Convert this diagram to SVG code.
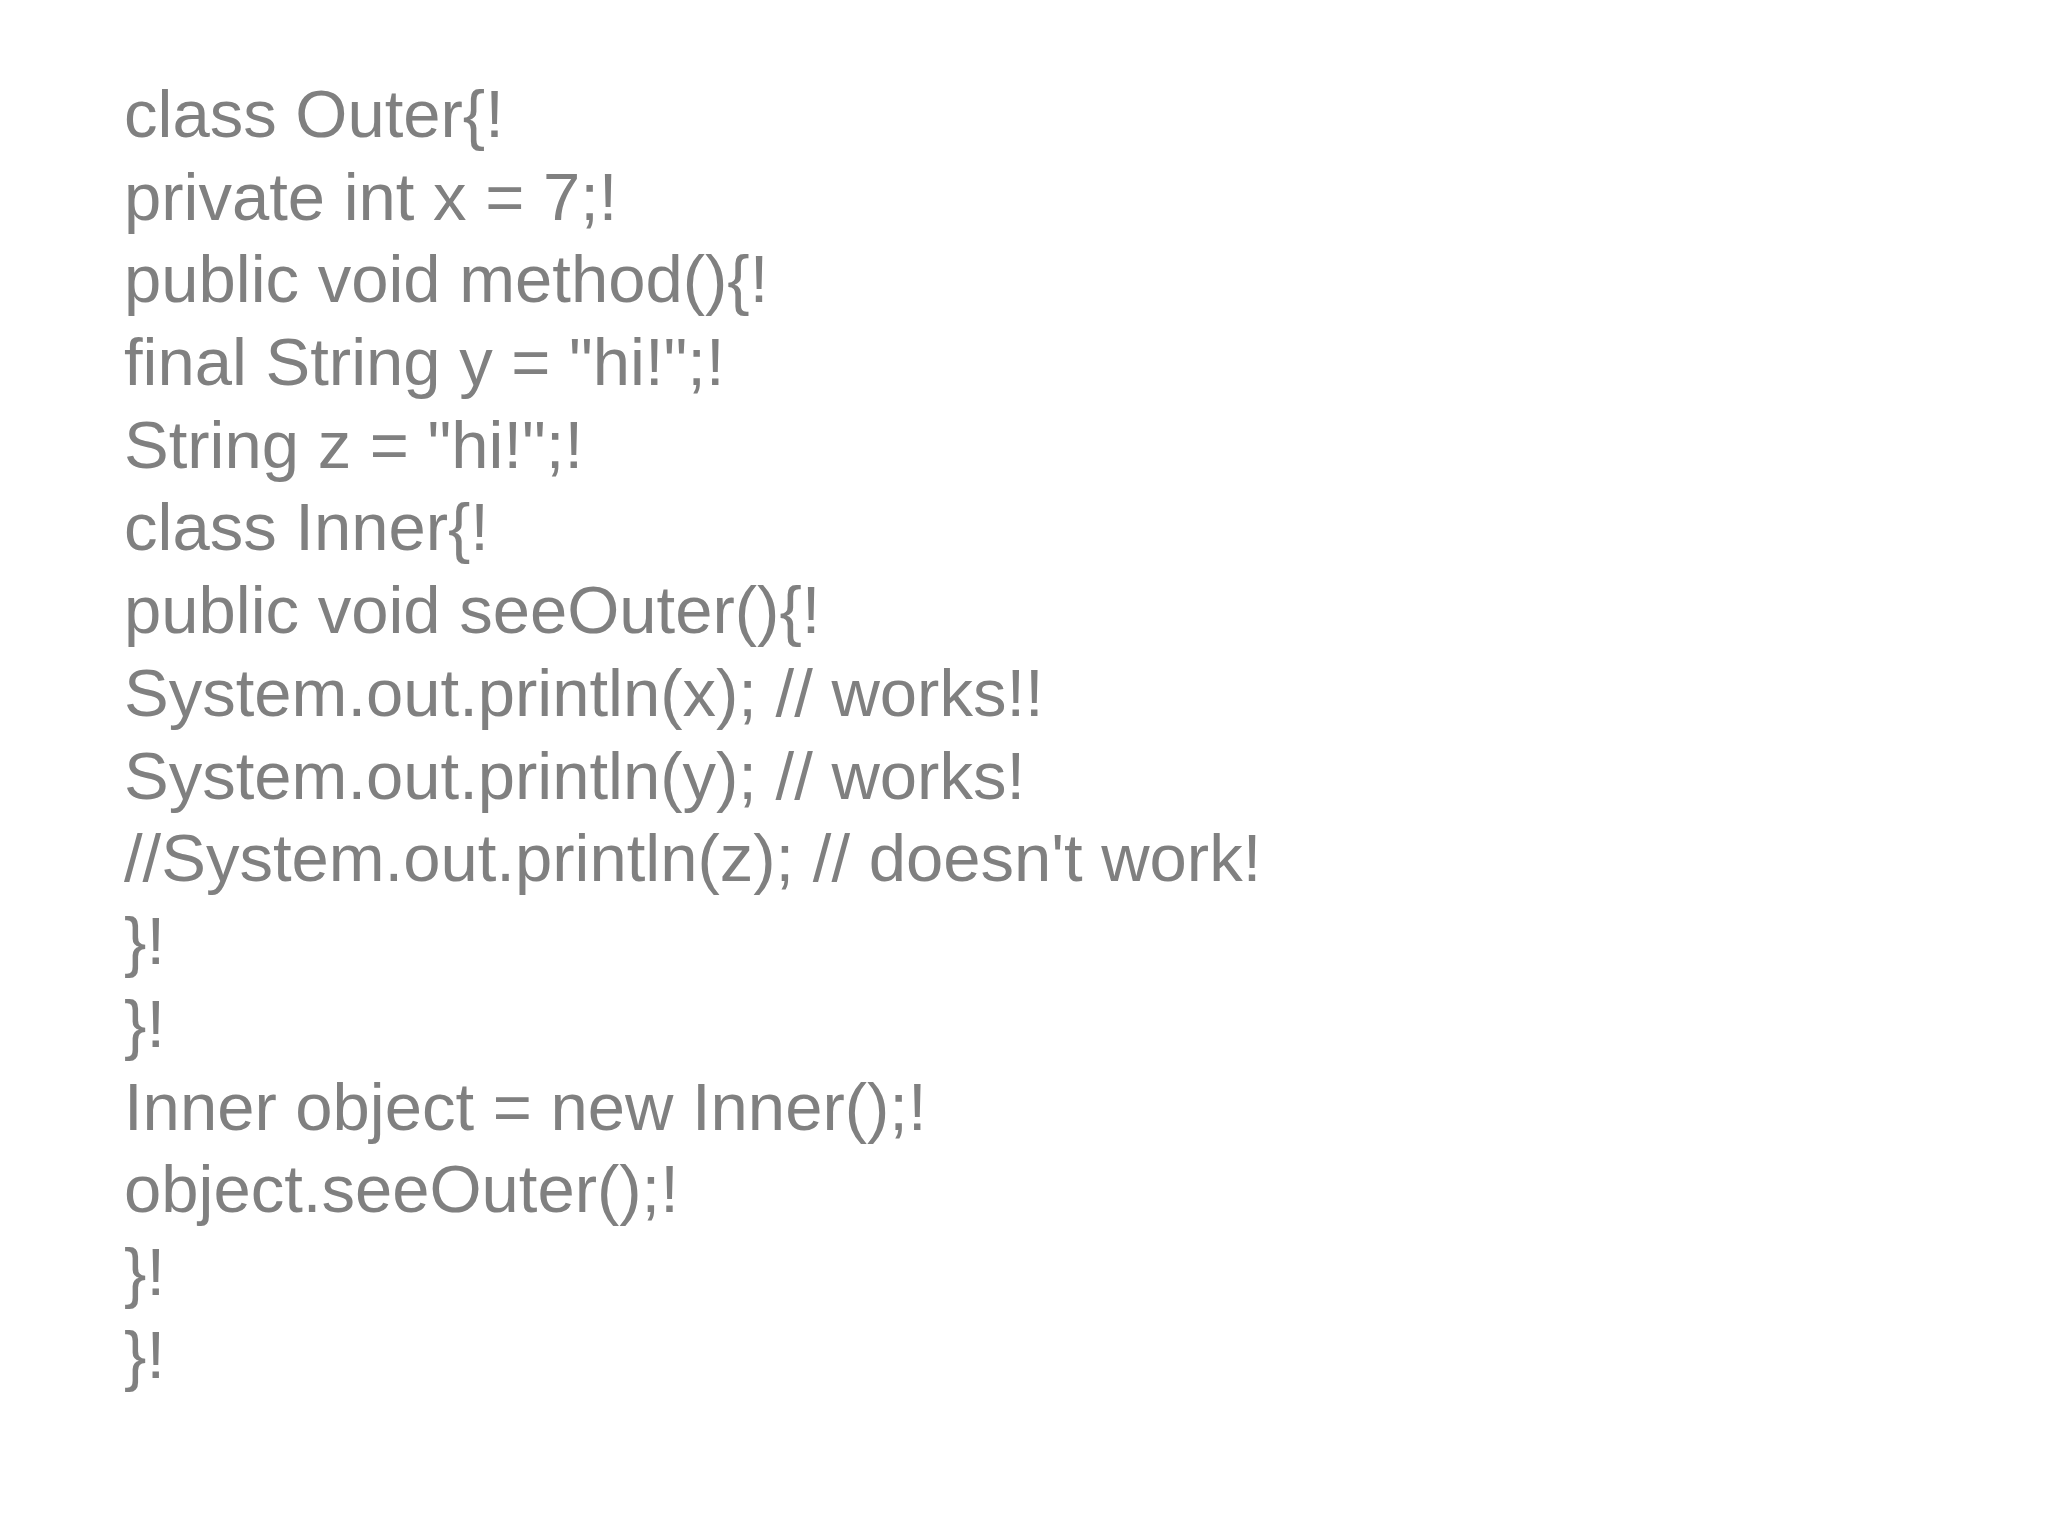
<svg xmlns="http://www.w3.org/2000/svg" width="2048" height="1536" viewBox="0 0 2048 1536">
<style>text{font-family:"Liberation Sans",Arial,sans-serif;font-size:67px;fill:#808080;}</style>
<rect width="2048" height="1536" fill="#fff"/>
<g id="code">
<text x="124" y="137">class Outer{!</text>
<text x="124" y="220">private int x = 7;!</text>
<text x="124" y="302">public void method(){!</text>
<text x="124" y="385">final String y = "hi!";!</text>
<text x="124" y="468">String z = "hi!";!</text>
<text x="124" y="550">class Inner{!</text>
<text x="124" y="633">public void seeOuter(){!</text>
<text x="124" y="716">System.out.println(x); // works!!</text>
<text x="124" y="799">System.out.println(y); // works!</text>
<text x="124" y="881">//System.out.println(z); // doesn't work!</text>
<text x="124" y="964">}!</text>
<text x="124" y="1047">}!</text>
<text x="124" y="1130">Inner object = new Inner();!</text>
<text x="124" y="1212">object.seeOuter();!</text>
<text x="124" y="1295">}!</text>
<text x="124" y="1378">}!</text>
</g>
</svg>
